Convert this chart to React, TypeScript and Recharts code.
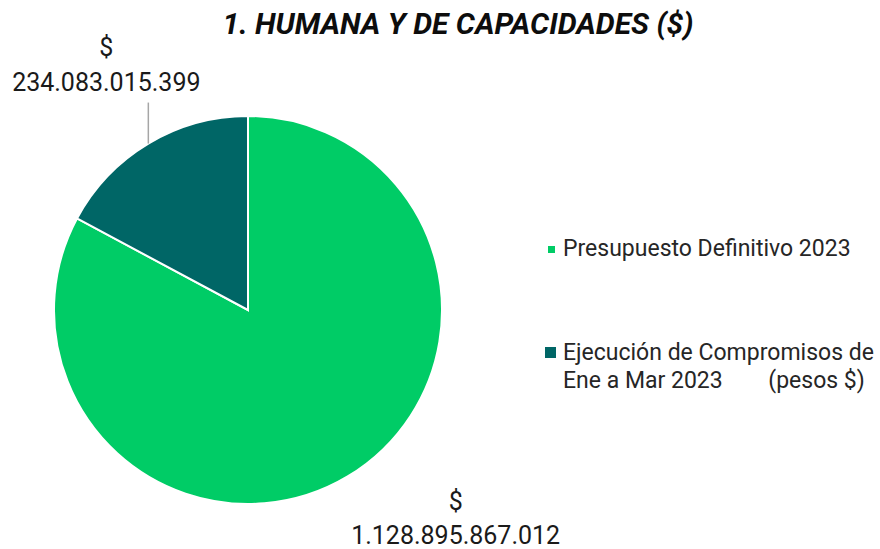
import React from "react";
import { PieChart, Pie, Cell, Legend } from "recharts";

const categories = [
  "Presupuesto Definitivo 2023",
  "Ejecución de Compromisos de Ene a Mar 2023        (pesos $)",
];
const values = [1128895867012, 234083015399];
const valueLabels = ["1.128.895.867.012", "234.083.015.399"];
const colors = ["#00CC66", "#006666"];
const title = "1. HUMANA Y DE CAPACIDADES ($)";

const data = categories.map((name, i) => ({ name, value: values[i], label: valueLabels[i] }));

const FONT = "Roboto, 'Noto Sans', sans-serif";
const RAD = Math.PI / 180;

const renderLabel = (props: any) => {
  const { cx, cy, outerRadius, midAngle, index } = props;
  const px = cx + outerRadius * Math.cos(-midAngle * RAD);
  const py = cy + outerRadius * Math.sin(-midAngle * RAD);
  const txt = valueLabels[index];
  if (index === 0) {
    const lx = px + 108;
    return (
      <g>
        <text x={lx} y={py + 34} textAnchor="middle" fontFamily={FONT} fontSize={25} fill="#1a1a1a">$</text>
        <text x={lx} y={py + 68} textAnchor="middle" fontFamily={FONT} fontSize={25} fill="#1a1a1a">{txt}</text>
      </g>
    );
  }
  const lx = px - 42;
  return (
    <g>
      <line x1={px} y1={py} x2={px} y2={py - 41} stroke="#A6A6A6" strokeWidth={1.5} />
      <text x={lx} y={py - 88} textAnchor="middle" fontFamily={FONT} fontSize={25} fill="#1a1a1a">$</text>
      <text x={lx} y={py - 53} textAnchor="middle" fontFamily={FONT} fontSize={25} fill="#1a1a1a">{txt}</text>
    </g>
  );
};

const renderLegend = () => (
  <div style={{ fontFamily: FONT, fontSize: 23, color: "#262626", width: 335 }}>
    <div style={{ display: "flex", alignItems: "flex-start", marginBottom: 76 }}>
      <span style={{ display: "inline-block", width: 7, height: 7, background: colors[0], marginTop: 11, marginRight: 8, marginLeft: 3, flexShrink: 0 }} />
      <span style={{ lineHeight: "28px", whiteSpace: "pre" }}>Presupuesto Definitivo 2023</span>
    </div>
    <div style={{ display: "flex", alignItems: "flex-start" }}>
      <span style={{ display: "inline-block", width: 11, height: 11, background: colors[1], marginTop: 8, marginRight: 7, flexShrink: 0 }} />
      <span style={{ lineHeight: "28px", whiteSpace: "pre" }}>{"Ejecución de Compromisos de\nEne a Mar 2023        (pesos $)"}</span>
    </div>
  </div>
);

export default function App() {
  return (
    <div style={{ position: "absolute", left: 0, top: 0, width: 880, height: 549, background: "#fff" }}>
      <div
        style={{
          position: "absolute",
          left: 0,
          width: 916,
          top: 6,
          textAlign: "center",
          fontFamily: FONT,
          fontWeight: 700,
          fontStyle: "italic",
          fontSize: 30,
          lineHeight: "36px",
          color: "#0d0d0d",
        }}
      >
        {title}
      </div>
      <PieChart width={880} height={549} margin={{ top: 0, right: 0, bottom: 0, left: 0 }}>
        <Pie
          data={data}
          dataKey="value"
          nameKey="name"
          cx={248}
          cy={310}
          outerRadius={194}
          startAngle={90}
          endAngle={-270}
          stroke="#ffffff"
          strokeWidth={2}
          label={renderLabel}
          labelLine={false}
          isAnimationActive={false}
        >
          {data.map((d, i) => (
            <Cell key={d.name} fill={colors[i]} />
          ))}
        </Pie>
        <Legend
          layout="vertical"
          verticalAlign="top"
          align="right"
          content={renderLegend}
          wrapperStyle={{ left: 545, top: 235, width: 335 }}
        />
      </PieChart>
    </div>
  );
}
